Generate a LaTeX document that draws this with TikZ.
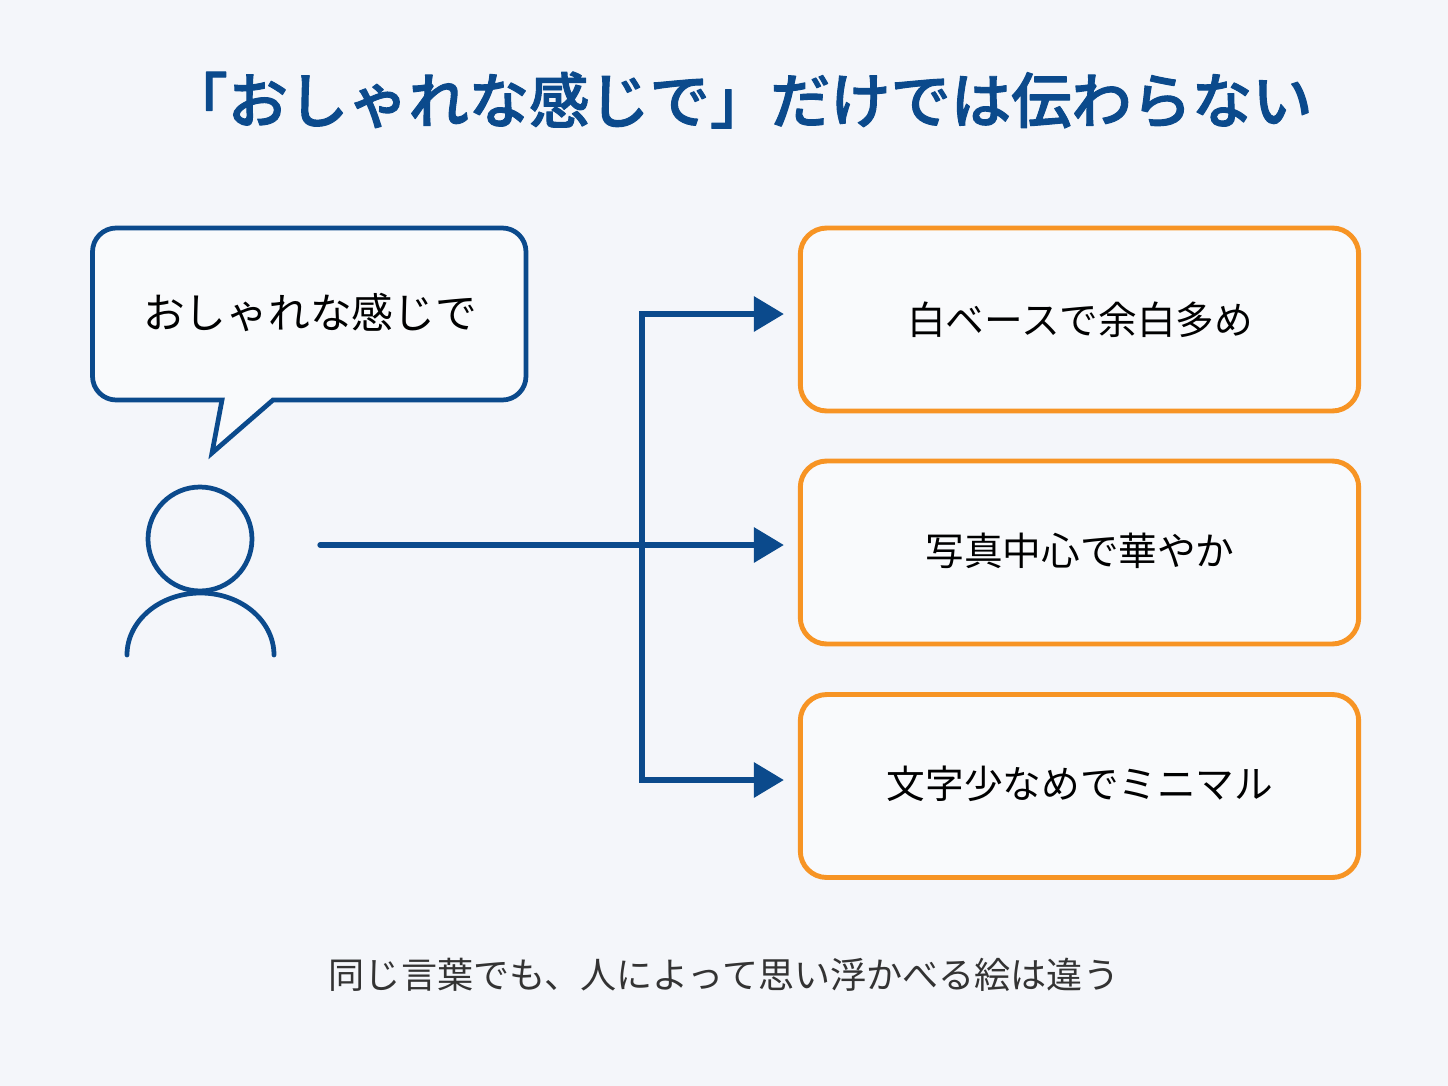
\documentclass[tikz,border=0pt]{standalone}
\usepackage{fontspec}
\usepackage{xcolor}
\usetikzlibrary{calc,arrows.meta}
\setmainfont{Noto Sans CJK JP}
\newfontfamily\titlefont[FakeBold=1.6]{Noto Sans CJK JP Medium}
\definecolor{mainblue}{RGB}{11,74,140}
\definecolor{boxorange}{RGB}{247,148,36}
\definecolor{paperbg}{RGB}{244,246,250}
\definecolor{boxfill}{RGB}{249,250,252}
\definecolor{notegray}{RGB}{51,51,51}
\tikzset{
    titlelab/.style={
        text=mainblue, font=\fontsize{34.3}{40}\titlefont
    },
    boxlab/.style={
        text=black, font=\fontsize{22}{28}\selectfont
    },
    outline/.style={
        draw=mainblue, line width=2.7pt
    },
    flow/.style={
        draw=mainblue, line width=3pt,
        -{Triangle[length=17pt,width=19.5pt]}
    },
    choice/.style={
        draw=boxorange, fill=boxfill, line width=2.8pt, rounded corners=15pt,
        minimum width=11.17cm, minimum height=3.66cm, inner sep=0pt
    }
}

\begin{document}
\begin{tikzpicture}[x=0.02cm,y=-0.02cm,line cap=round,line join=round]

% --- canvas ---
    \fill[paperbg] (0,0) rectangle (1448,1086);
    \useasboundingbox (0,0) rectangle (1448,1086);

% title
    \node[titlelab] (title) at (740,100) {「おしゃれな感じで」だけでは伝わらない};

% speech bubble (corners rounded, tail sharp)
    \draw[outline, fill=boxfill, line join=miter]
        (222,400) [rounded corners=13.5pt] -- (92.5,400) -- (92.5,228) -- (526,228) -- (526,400)
        [sharp corners] -- (273,400) -- (212,453) -- cycle;
    \node[boxlab, font=\fontsize{23.75}{30}\selectfont] (said) at (310,312) {おしゃれな感じで};

% person
    \node[outline, circle, minimum size=2.08cm, inner sep=0pt] (head) at (200,539) {};
    \draw[outline] (127,655) arc[start angle=180, end angle=0, x radius=73.5, y radius=-62];

% three readings
    \node[choice] (boxa) at (1079.5,319.5) {};
    \node[choice] (boxb) at (1079.5,552.5) {};
    \node[choice] (boxc) at (1079.5,786) {};
    \node[boxlab] (laba) at (1080,320) {白ベースで余白多め};
    \node[boxlab] (labb) at (1080,551) {写真中心で華やか};
    \node[boxlab] (labc) at (1080,784) {文字少なめでミニマル};

% connectors
    \coordinate (start) at (320,545);
    \coordinate (branch) at (642,545);
    \coordinate (tipa) at ($ (boxa.west) + (-14,-5.5) $);
    \coordinate (tipb) at ($ (boxb.west) + (-14,-7.5) $);
    \coordinate (tipc) at ($ (boxc.west) + (-14,-6) $);
    \draw[flow] (start) -- (tipb);
    \draw[flow, line cap=butt, line join=miter] (branch) |- (tipa);
    \draw[flow, line cap=butt, line join=miter] (branch) |- (tipc);

% note below
    \node[text=notegray, font=\fontsize{20.55}{26}\selectfont] (note) at (724,975) {同じ言葉でも、人によって思い浮かべる絵は違う};

\end{tikzpicture}
\end{document}
